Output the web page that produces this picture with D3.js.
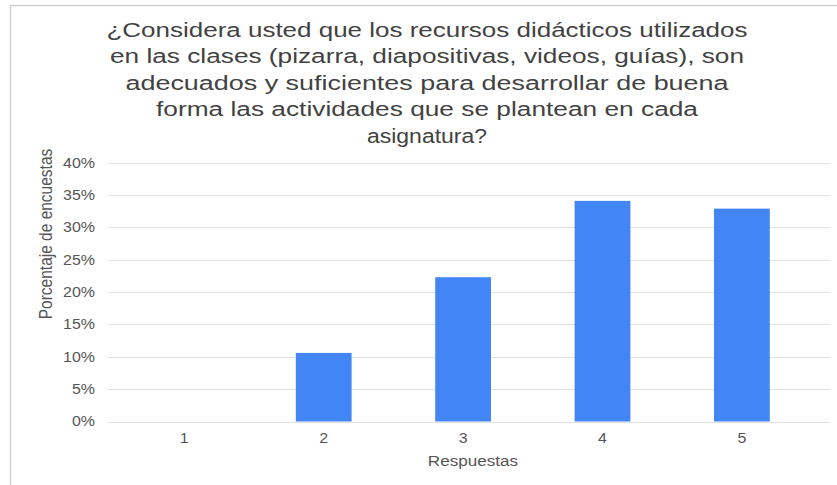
<!DOCTYPE html>
<html>
<head>
<meta charset="utf-8">
<script src="https://cdn.jsdelivr.net/npm/d3@7"></script>
<style>
  body { margin: 0; background: #fff; }
  svg { font-family: "Liberation Sans", Arial, sans-serif; }
</style>
</head>
<body>
<div id="chart"></div>
<script>
  // data
  const respuestas = ["1", "2", "3", "4", "5"];
  const porcentajes = [0, 0.106, 0.223, 0.341, 0.329];
  const yTicks = [0, 0.05, 0.10, 0.15, 0.20, 0.25, 0.30, 0.35, 0.40];
  const titleLines = [
    "¿Considera usted que los recursos didácticos utilizados",
    "en las clases (pizarra, diapositivas, videos, guías), son",
    "adecuados y suficientes para desarrollar de buena",
    "forma las actividades que se plantean en cada",
    "asignatura?"
  ];
  // the reference text is drawn a bit wider than the font, so fit each title line
  const titleWidths = [641, 634, 603, 542, 120];

  const width = 837, height = 485;
  const stretch = 1.14;
  const data = respuestas.map((r, i) => ({ r, v: porcentajes[i] }));

  const svg = d3.select("#chart").append("svg")
    .attr("width", width)
    .attr("height", height);

  // frame
  svg.append("path")
    .attr("d", `M10.5,${height} V5.5 H${width}`)
    .attr("fill", "none")
    .attr("stroke", "#d0d0d0")
    .attr("stroke-width", 1.5);

  // title
  svg.append("g")
    .selectAll("text")
    .data(titleLines)
    .join("text")
    .attr("x", d => 427 - titleWidths[titleLines.indexOf(d)] / 2)
    .attr("y", (d, i) => 37 + i * 26.4)
    .attr("textLength", (d, i) => titleWidths[i])
    .attr("lengthAdjust", "spacingAndGlyphs")
    .attr("fill", "#424242")
    .style("font-size", "20px")
    .text(d => d);

  const xScale = d3.scaleBand()
    .domain(respuestas)
    .range([114.6, 811.6])
    .paddingInner(0.6)
    .paddingOuter(0.3);

  const yScale = d3.scaleLinear()
    .domain([0, 0.4])
    .range([421.5, 162.7]);

  // grid
  svg.append("g")
    .selectAll("line")
    .data(yTicks)
    .join("line")
    .attr("x1", 108)
    .attr("x2", 830)
    .attr("y1", d => Math.round(yScale(d)) + 0.5)
    .attr("y2", d => Math.round(yScale(d)) + 0.5)
    .attr("stroke", "#e2e2e2")
    .attr("stroke-width", 1.2);

  // y axis
  const yAxis = d3.axisLeft(yScale)
    .tickValues(yTicks)
    .tickFormat(d3.format(".0%"))
    .tickSize(0)
    .tickPadding(0);

  svg.append("g")
    .attr("transform", "translate(95,0)")
    .call(yAxis)
    .call(g => g.select(".domain").remove())
    .selectAll("text")
    .attr("x", 0)
    .attr("transform", `scale(${stretch},1)`)
    .attr("fill", "#555")
    .style("font-size", "14px");

  // bars
  svg.selectAll("rect.bar")
    .data(data)
    .join("rect")
    .attr("class", "bar")
    .attr("x", d => xScale(d.r))
    .attr("width", xScale.bandwidth())
    .attr("y", d => yScale(d.v))
    .attr("height", d => yScale(0) - yScale(d.v))
    .attr("fill", "#4285f4");

  // x axis
  const xAxis = d3.axisBottom(xScale).tickSize(0).tickPadding(0);
  svg.append("g")
    .attr("transform", "translate(0,433)")
    .call(xAxis)
    .call(g => g.select(".domain").remove())
    .selectAll("text")
    .attr("transform", `scale(${stretch},1)`)
    .attr("fill", "#555")
    .style("font-size", "14px");

  // axis titles
  svg.append("text")
    .attr("transform", `translate(473,466) scale(${stretch},1)`)
    .attr("text-anchor", "middle")
    .attr("fill", "#555")
    .style("font-size", "15px")
    .text("Respuestas");

  svg.append("text")
    .attr("transform", `translate(52,234) rotate(-90) scale(1,${stretch})`)
    .attr("text-anchor", "middle")
    .attr("fill", "#555")
    .style("font-size", "15.5px")
    .text("Porcentaje de encuestas");
</script>
</body>
</html>
